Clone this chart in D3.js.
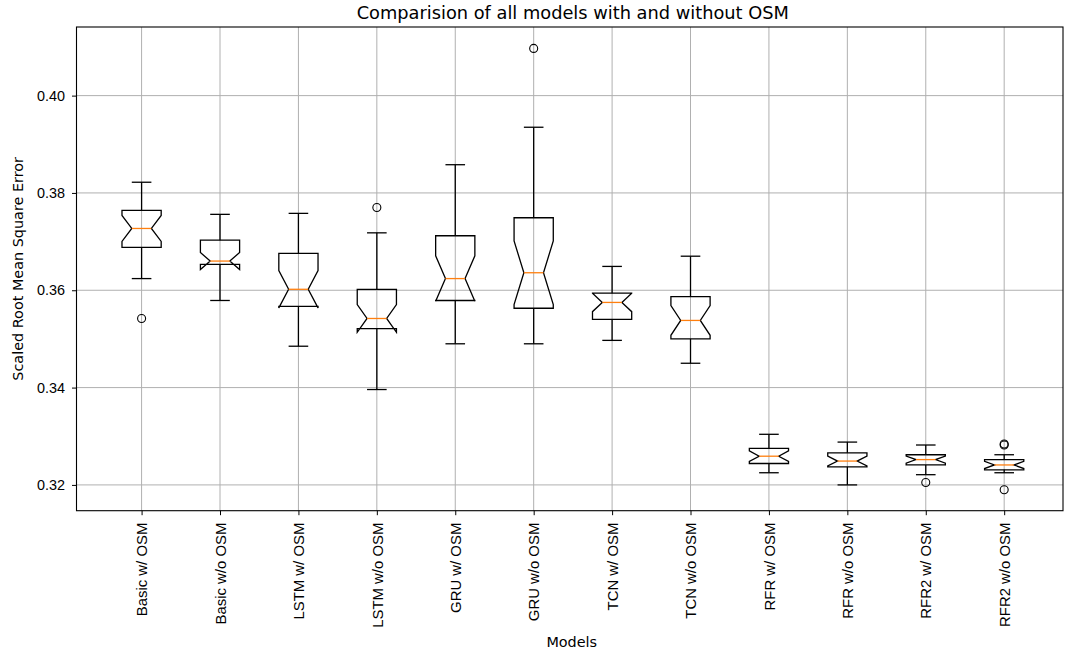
<!DOCTYPE html>
<html>
<head>
<meta charset="utf-8">
<script src="https://cdn.jsdelivr.net/npm/d3@7"></script>
<style>
  html, body { margin: 0; padding: 0; background: #fff; }
  svg { display: block; font-family: "DejaVu Sans", sans-serif; }
</style>
</head>
<body>
<svg id="chart" width="1067" height="652"></svg>
<script>
// Model names along the x axis
const categories = [
  "Basic w/ OSM", "Basic w/o OSM", "LSTM w/ OSM", "LSTM w/o OSM",
  "GRU w/ OSM", "GRU w/o OSM", "TCN w/ OSM", "TCN w/o OSM",
  "RFR w/ OSM", "RFR w/o OSM", "RFR2 w/ OSM", "RFR2 w/o OSM"
];
// Box statistics per model (scaled RMSE)
const whiskerLow  = [0.3624, 0.3579, 0.3485, 0.3396, 0.3490, 0.3490, 0.3497, 0.3450, 0.3225, 0.3200, 0.3221, 0.3225];
const q1          = [0.3688, 0.3653, 0.3567, 0.3521, 0.3579, 0.3563, 0.3540, 0.3500, 0.3244, 0.3237, 0.3241, 0.3231];
const median      = [0.3727, 0.3660, 0.3602, 0.3542, 0.3624, 0.3636, 0.3575, 0.3538, 0.3259, 0.3249, 0.3252, 0.3241];
const q3          = [0.3764, 0.3703, 0.3676, 0.3602, 0.3712, 0.3749, 0.3594, 0.3587, 0.3275, 0.3266, 0.3262, 0.3252];
const whiskerHigh = [0.3822, 0.3756, 0.3758, 0.3718, 0.3858, 0.3935, 0.3649, 0.3670, 0.3304, 0.3288, 0.3282, 0.3262];
const outliers    = [[0.3542], [], [], [0.3770], [], [0.4097], [], [], [], [], [0.3205], [0.3284, 0.3282, 0.3190]];
// Runs per model, used for the median confidence notches
const sampleCount = 20;
const yTicks = [0.32, 0.34, 0.36, 0.38, 0.40];

const svg = d3.select("#chart");
const plot = { left: 76.5, right: 1063, top: 27, bottom: 510.7 };

const x = d3.scaleLinear().domain([0.17, 12.75]).range([plot.left, plot.right]);
const y = d3.scaleLinear().domain([0.3147, 0.4141]).range([plot.bottom, plot.top]);

const positions = categories.map((_, i) => i + 1);
const boxWidth = 0.5;
const gridColor = "#b0b0b0";
const tickFont = 14.4;

// Grid lines
const grid = svg.append("g");
grid.selectAll(".gx").data(positions).join("line")
  .attr("x1", d => x(d)).attr("x2", d => x(d))
  .attr("y1", plot.top).attr("y2", plot.bottom)
  .attr("stroke", gridColor).attr("stroke-width", 1);
grid.selectAll(".gy").data(yTicks).join("line")
  .attr("x1", plot.left).attr("x2", plot.right)
  .attr("y1", d => y(d)).attr("y2", d => y(d))
  .attr("stroke", gridColor).attr("stroke-width", 1);

// Boxes
const stats = categories.map((c, i) => {
  const iqr = q3[i] - q1[i];
  const half = 1.57 * iqr / Math.sqrt(sampleCount);
  return { pos: i + 1, lo: whiskerLow[i], q1: q1[i], med: median[i], q3: q3[i], hi: whiskerHigh[i],
           cilo: median[i] - half, cihi: median[i] + half, fl: outliers[i] };
});

const boxes = svg.append("g");
stats.forEach(s => {
  const g = boxes.append("g");
  const bl = s.pos - boxWidth / 2, br = s.pos + boxWidth / 2;
  const nl = s.pos - boxWidth / 4, nr = s.pos + boxWidth / 4;
  const pts = [
    [bl, s.q1], [br, s.q1], [br, s.cilo], [nr, s.med], [br, s.cihi], [br, s.q3],
    [bl, s.q3], [bl, s.cihi], [nl, s.med], [bl, s.cilo], [bl, s.q1]
  ];
  g.append("path")
    .attr("d", d3.line().x(p => x(p[0])).y(p => y(p[1]))(pts) + "Z")
    .attr("fill", "none").attr("stroke", "#000").attr("stroke-width", 1.3)
    .attr("stroke-linejoin", "miter");
  // whiskers
  [[s.q1, s.lo], [s.q3, s.hi]].forEach(([a, b]) => {
    g.append("line")
      .attr("x1", x(s.pos)).attr("x2", x(s.pos))
      .attr("y1", y(a)).attr("y2", y(b))
      .attr("stroke", "#000").attr("stroke-width", 1.3);
  });
  // caps
  [s.lo, s.hi].forEach(v => {
    g.append("line")
      .attr("x1", x(s.pos - boxWidth / 4)).attr("x2", x(s.pos + boxWidth / 4))
      .attr("y1", y(v)).attr("y2", y(v))
      .attr("stroke", "#000").attr("stroke-width", 1.3);
  });
  // median
  g.append("line")
    .attr("x1", x(nl)).attr("x2", x(nr))
    .attr("y1", y(s.med)).attr("y2", y(s.med))
    .attr("stroke", "#ff7f0e").attr("stroke-width", 1.3);
  // fliers
  g.selectAll("circle").data(s.fl).join("circle")
    .attr("cx", x(s.pos)).attr("cy", d => y(d)).attr("r", 4)
    .attr("fill", "none").attr("stroke", "#000").attr("stroke-width", 1.1);
});

// Axes
const xAxis = d3.axisBottom(x).tickValues(positions).tickFormat(d => categories[d - 1])
  .tickSize(4.5).tickPadding(4);
const yAxis = d3.axisLeft(y).tickValues(yTicks).tickFormat(d3.format(".2f"))
  .tickSize(4.5).tickPadding(7);

const gx = svg.append("g").attr("transform", `translate(0,${plot.bottom})`).call(xAxis);
gx.select(".domain").remove();
gx.selectAll(".tick line").attr("stroke", "#000").attr("stroke-width", 1);
gx.selectAll(".tick text")
  .attr("font-size", 14.9).attr("fill", "#000")
  .attr("transform", "rotate(-90)")
  .attr("text-anchor", "end")
  .attr("x", -12).attr("y", 0).attr("dy", "0.35em");

const gy = svg.append("g").attr("transform", `translate(${plot.left},0)`).call(yAxis);
gy.select(".domain").remove();
gy.selectAll(".tick line").attr("stroke", "#000").attr("stroke-width", 1);
gy.selectAll(".tick text").attr("font-size", tickFont).attr("fill", "#000");

// Frame
svg.append("rect")
  .attr("x", plot.left).attr("y", plot.top)
  .attr("width", plot.right - plot.left).attr("height", plot.bottom - plot.top)
  .attr("fill", "none").attr("stroke", "#000").attr("stroke-width", 1.1);

// Titles
svg.append("text")
  .attr("x", (plot.left + plot.right) / 2 + 3).attr("y", 19)
  .attr("text-anchor", "middle").attr("font-size", 17.8).attr("fill", "#000")
  .text("Comparision of all models with and without OSM");
svg.append("text")
  .attr("x", (plot.left + plot.right) / 2 + 2).attr("y", 647)
  .attr("text-anchor", "middle").attr("font-size", tickFont).attr("fill", "#000")
  .text("Models");
svg.append("text")
  .attr("transform", `translate(23,${(plot.top + plot.bottom) / 2}) rotate(-90)`)
  .attr("text-anchor", "middle").attr("font-size", tickFont).attr("fill", "#000")
  .text("Scaled Root Mean Square Error");
</script>
</body>
</html>
